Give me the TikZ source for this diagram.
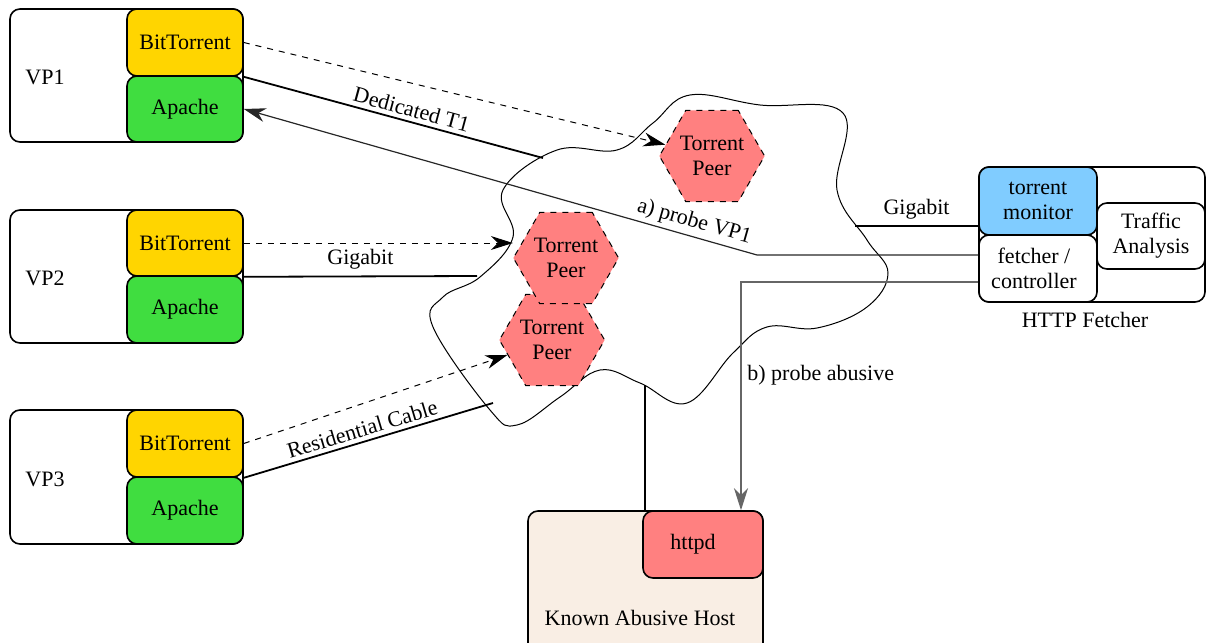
\documentclass[tikz,border=0pt]{standalone}
\usepackage{fontspec}
\setmainfont{Liberation Serif}
\usetikzlibrary{shapes.geometric,fit,arrows.meta,calc}
\definecolor{btcol}{HTML}{FFD500}
\definecolor{apcol}{HTML}{40DD40}
\definecolor{peercol}{HTML}{FF8080}
\definecolor{moncol}{HTML}{80CCFF}
\definecolor{hostcol}{HTML}{F9EEE4}
\begin{document}
\begin{tikzpicture}[x=0.5pt,y=-0.5pt,
  font=\fontsize{11}{12.5}\selectfont,
  box/.style={draw, line width=0.8pt, rounded corners=5pt, inner sep=0pt},
  lbl/.style={inner sep=1pt, align=center},
  peer/.style={regular polygon, regular polygon sides=6, minimum size=51pt,
     inner sep=0pt, fill=peercol, draw, dashed, line width=0.5pt, align=center},
  link/.style={line width=0.9pt},
  tip/.style={-{Stealth[length=11pt,width=7pt,inset=3.5pt]}},
  btarrow/.style={dashed, line width=0.5pt, tip},
  probe/.style={line width=0.6pt, tip},
  cloudline/.style={line width=0.5pt}]
\useasboundingbox (0,0) rectangle (1207,643);

% vantage points
\node[box, fit={(10,9)(243,142)}] (vp1) {};
\node[lbl] (vp1l) at (45,77) {VP1};
\node[box, fill=btcol, fit={(127,9)(243,76)}] (bt1) {};
\node[lbl] (bt1t) at (bt1) {BitTorrent};
\node[box, fill=apcol, fit={(127,76)(243,142)}] (ap1) {};
\node[lbl] (ap1t) at (ap1) {Apache};

\node[box, fit={(10,210)(243,343)}] (vp2) {};
\node[lbl] (vp2l) at (45,278) {VP2};
\node[box, fill=btcol, fit={(127,210)(243,276)}] (bt2) {};
\node[lbl] (bt2t) at (bt2) {BitTorrent};
\node[box, fill=apcol, fit={(127,276)(243,343)}] (ap2) {};
\node[lbl] (ap2t) at (ap2) {Apache};

\node[box, fit={(10,410)(243,544)}] (vp3) {};
\node[lbl] (vp3l) at (45,479) {VP3};
\node[box, fill=btcol, fit={(127,410)(243,477)}] (bt3) {};
\node[lbl] (bt3t) at (bt3) {BitTorrent};
\node[box, fill=apcol, fit={(127,477)(243,544)}] (ap3) {};
\node[lbl] (ap3t) at (ap3) {Apache};

% HTTP fetcher
\node[box, fit={(979,167)(1205,302)}] (fetch) {};
\node[box, fill=moncol, fit={(979,167)(1097,235)}] (tm) {};
\node[lbl] (tmt) at (tm) {torrent\\monitor};
\node[box, fill=white, fit={(979,235)(1097,302)}] (fc) {};
\node[lbl] (fct) at ([xshift=-2pt]fc.center) {fetcher /\\controller};
\node[box, fill=white, fit={(1097,203)(1205,269)}] (ta) {};
\node[lbl] (tat) at (ta) {Traffic\\Analysis};
\node[lbl] (fetchl) at (1085,320) {HTTP Fetcher};

% Known abusive host
\node[box, fill=hostcol, fit={(528,511)(763,668)}] (kah) {};
\node[box, fill=peercol, fit={(643,511)(763,578)}] (httpd) {};
\node[lbl] (httpdt) at ([xshift=-5pt]httpd.center) {httpd};
\node[lbl] (kahl) at (640,618) {Known Abusive Host};

% cloud
\draw[cloudline] plot[smooth cycle, tension=0.65] coordinates {
 (503,190) (557,150) (617,150) (653,123) (690,95) (760,105) (843,113)
 (837,190) (867,240) (888,273) (867,307) (817,328) (767,327) (733,353)
 (687,403) (640,383) (600,370) (560,397) (517,425) (490,410) (433,327)
 (443,297) (480,277) (513,237)};

% torrent peers
\node[peer] (p3) at (552,340) {Torrent\\Peer};
\node[peer] (p2) at (566,258) {Torrent\\Peer};
\node[peer] (p1) at (712,156) {Torrent\\Peer};

% cloud attachment points
\coordinate (c1) at (543,158);
\coordinate (c2) at (477,276);
\coordinate (c3) at (493,403);
\coordinate (c4) at (855,226);
\coordinate (c5) at (645,385);
\coordinate (abend) at (757,255);
\coordinate (bbend) at (741,282);

% links
\draw[link] (bt1.south east) -- (c1) node[sloped, above, pos=0.55, inner sep=2pt] {Dedicated T1};
\draw[link] (bt2.south east) -- (c2) node[above, midway, inner sep=3pt] {Gigabit};
\draw[link] (bt3.south east) -- (c3) node[sloped, above, pos=0.49, inner sep=2pt] {Residential Cable};
\draw[link] (c4) -- (c4 -| tm.west);
\path (c4) -- (c4 -| tm.west) node[above, midway, inner sep=3pt] {Gigabit};
\draw[link] (c5) -- (c5 |- kah.north);

% bittorrent connections
\draw[btarrow] (bt1.east) -- (p1);
\draw[btarrow] (bt2.east) -- (bt2.east -| p2.west);
\draw[btarrow] (bt3.east) -- (p3);

% probes
\draw[probe, black!85] ([yshift=6.75pt]fc.west) -- (abend) -- (ap1.east);
\path (ap1.east) -- (abend) node[sloped, above, pos=0.87, inner sep=2pt] {a) probe VP1};
\draw[probe, black!60] ([yshift=-6.75pt]fc.west) -- (bbend) -- (bbend |- httpd.north);
\node[lbl, anchor=west] (bl) at (745,375) {b) probe abusive};
\end{tikzpicture}
\end{document}
